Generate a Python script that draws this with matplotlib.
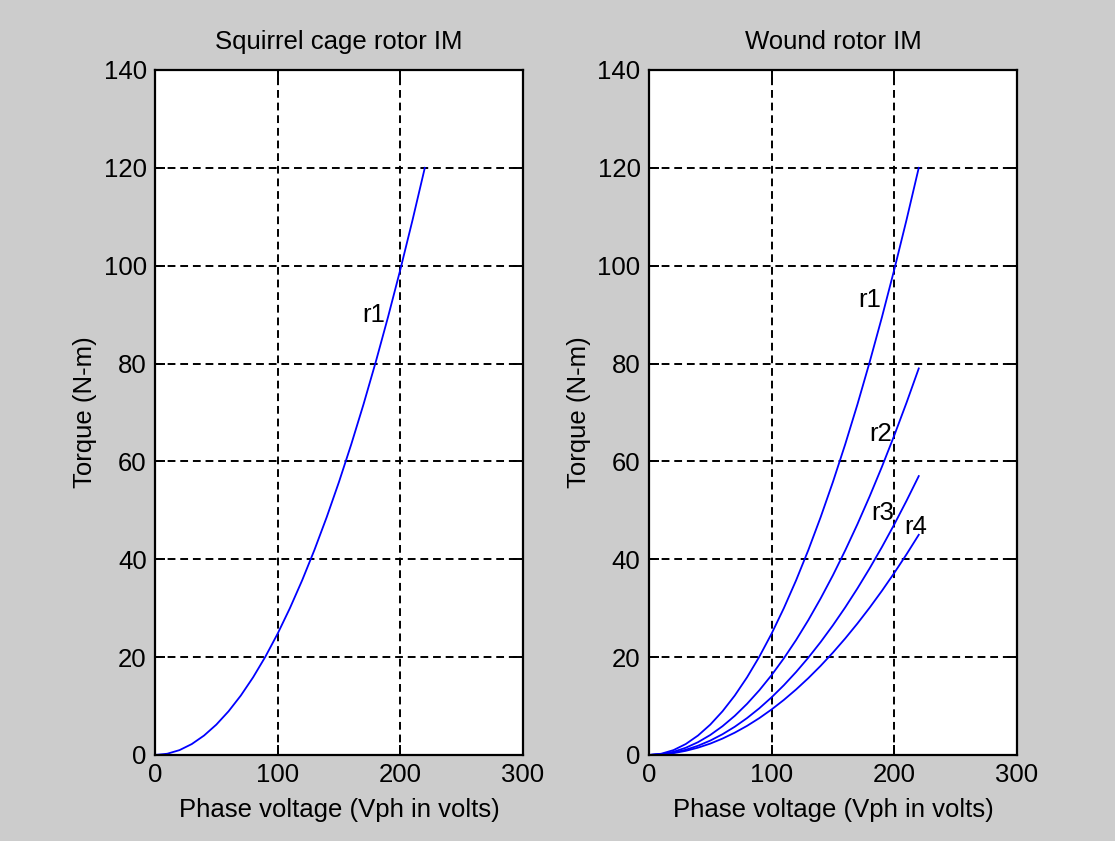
import numpy as np
import matplotlib.pyplot as plt

plt.rcParams['font.family'] = ['Liberation Sans', 'DejaVu Sans']

# phase voltage samples (V) and torque (N-m) for each rotor resistance
vph = [0, 10, 20, 30, 40, 50, 60, 70, 80, 90, 100, 110,
       120, 130, 140, 150, 160, 170, 180, 190, 200, 210, 220]
t_r1 = [0, 0.25, 0.99, 2.23, 3.97, 6.20, 8.93, 12.15, 15.87, 20.08, 24.79, 30.00,
        35.70, 41.90, 48.60, 55.79, 63.47, 71.65, 80.33, 89.50, 99.17, 109.34, 120.0]
t_r2 = [0, 0.16, 0.65, 1.47, 2.61, 4.08, 5.88, 8.00, 10.45, 13.22, 16.32, 19.75,
        23.50, 27.58, 31.99, 36.72, 41.79, 47.17, 52.88, 58.92, 65.29, 71.98, 79.0]
t_r3 = [0, 0.12, 0.47, 1.06, 1.88, 2.94, 4.24, 5.77, 7.54, 9.54, 11.78, 14.25,
        16.96, 19.90, 23.08, 26.50, 30.15, 34.04, 38.16, 42.51, 47.11, 51.94, 57.0]
t_r4 = [0, 0.09, 0.37, 0.84, 1.49, 2.32, 3.35, 4.56, 5.95, 7.53, 9.30, 11.25,
        13.39, 15.71, 18.22, 20.92, 23.80, 26.87, 30.12, 33.56, 37.19, 41.00, 45.0]

xticks = [0, 100, 200, 300]
yticks = [0, 20, 40, 60, 80, 100, 120, 140]

fs = 18.5
bg = '#cccccc'

fig = plt.figure(figsize=(11.15, 8.41), dpi=100, facecolor=bg)
ax1 = fig.add_axes([0.139, 0.1023, 0.330, 0.8145])
ax2 = fig.add_axes([0.582, 0.1023, 0.330, 0.8145])


def style(ax, title):
    ax.set_xlim(0, 300)
    ax.set_ylim(0, 140)
    ax.set_xticks(xticks)
    ax.set_yticks(yticks)
    ax.grid(True, color='black', linestyle=(0, (4, 2.5)), linewidth=1.4)
    ax.tick_params(direction='in', length=7, width=1.4, labelsize=fs,
                   top=True, right=True, pad=6, colors='black')
    for s in ax.spines.values():
        s.set_linewidth(1.6)
    ax.set_title(title, fontsize=fs, pad=15)
    ax.set_xlabel('Phase voltage (Vph in volts)', fontsize=fs, labelpad=8)
    ax.set_ylabel('Torque (N-m)', fontsize=fs, labelpad=5)


style(ax1, 'Squirrel cage rotor IM')
ax1.plot(vph, t_r1, color='blue', linewidth=1.3)
ax1.text(169, 90, 'r1', fontsize=fs, va='center')

style(ax2, 'Wound rotor IM')
for t in (t_r1, t_r2, t_r3, t_r4):
    ax2.plot(vph, t, color='blue', linewidth=1.3)
ax2.text(171, 93, 'r1', fontsize=fs, va='center')
ax2.text(180, 65.5, 'r2', fontsize=fs, va='center')
ax2.text(181, 49.5, 'r3', fontsize=fs, va='center')
ax2.text(208, 46.5, 'r4', fontsize=fs, va='center')

fig.savefig('out.png', dpi=100, facecolor=bg)
